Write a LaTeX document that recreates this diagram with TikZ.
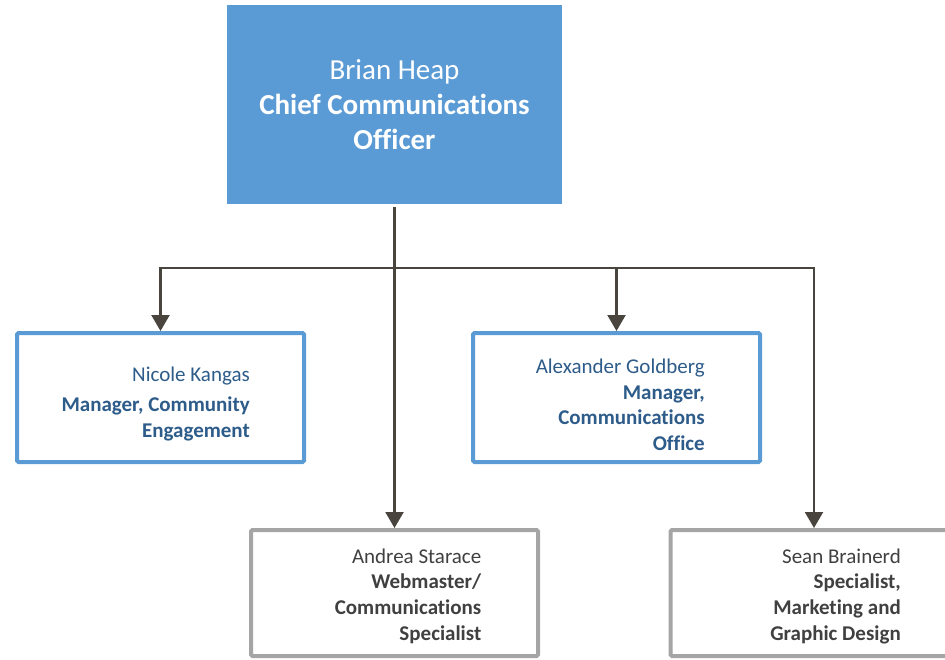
\documentclass[tikz,border=0pt]{standalone}
\usepackage{fontspec}
\setmainfont{Carlito}[Ligatures=NoCommon]
\usetikzlibrary{arrows.meta}
\definecolor{topfill}{HTML}{5B9BD5}
\definecolor{blueline}{HTML}{5B9BD5}
\definecolor{grayline}{HTML}{A5A5A5}
\definecolor{bluetext}{HTML}{2E5C8A}
\definecolor{graytext}{HTML}{404040}
\definecolor{conncol}{HTML}{4A443E}
\begin{document}
\begin{tikzpicture}[x=1pt,y=-1pt,
  topbox/.style={fill=topfill,minimum width=335pt,minimum height=199pt,inner sep=0pt,
    text=white,align=center,font=\fontsize{29}{35}\selectfont},
  bluebox/.style={draw=blueline,line width=4pt,fill=white,rounded corners=1.5pt,
    minimum width=287pt,minimum height=129pt,inner sep=0pt},
  graybox/.style={draw=grayline,line width=4pt,fill=white,rounded corners=1.5pt,
    minimum width=287pt,minimum height=126pt,inner sep=0pt},
  persontext/.style={anchor=north east,align=right,inner sep=0pt,
    font=\fontsize{21}{25.7}\selectfont},
  bluetxt/.style={persontext,text=bluetext},
  graytxt/.style={persontext,text=graytext},
  conn/.style={draw=conncol,line width=2.2pt,-{Triangle[width=18pt,length=16pt]}},
]
\useasboundingbox (0,0) rectangle (945,659);
% boxes
\node[topbox] (ceo) at (394.5,104.5) {Brian Heap\\\textbf{Chief Communications}\\\textbf{Officer}};
\node[bluebox] (nicole) at (160.5,397.5) {};
\node[bluebox] (alex) at (616.5,397.5) {};
\node[graybox] (andrea) at (394.5,593) {};
\node[graybox] (sean) at (814,593) {};
% texts
\node[bluetxt] (nicoletxt) at (250,366.5) {Nicole Kangas\\[5pt]\textbf{Manager, Community}\\\textbf{Engagement}};
\node[bluetxt] (alextxt) at (705,358.7) {Alexander Goldberg\\\textbf{Manager,}\\\textbf{Communications}\\\textbf{Office}};
\node[graytxt] (andreatxt) at (481.5,548.4) {Andrea Starace\\\textbf{Webmaster/}\\\textbf{Communications}\\\textbf{Specialist}};
\node[graytxt] (seantxt) at (901,548.4) {Sean Brainerd\\\textbf{Specialist,}\\\textbf{Marketing and}\\\textbf{Graphic Design}};
% connectors
\coordinate (bus) at (394.5,268);
\draw[conn,shorten <=3pt] (ceo.south) -- (andrea.north);
\draw[conn] (bus) -| (nicole.north);
\draw[conn] (bus) -| (alex.north);
\draw[conn] (bus) -| (sean.north);
\end{tikzpicture}
\end{document}
